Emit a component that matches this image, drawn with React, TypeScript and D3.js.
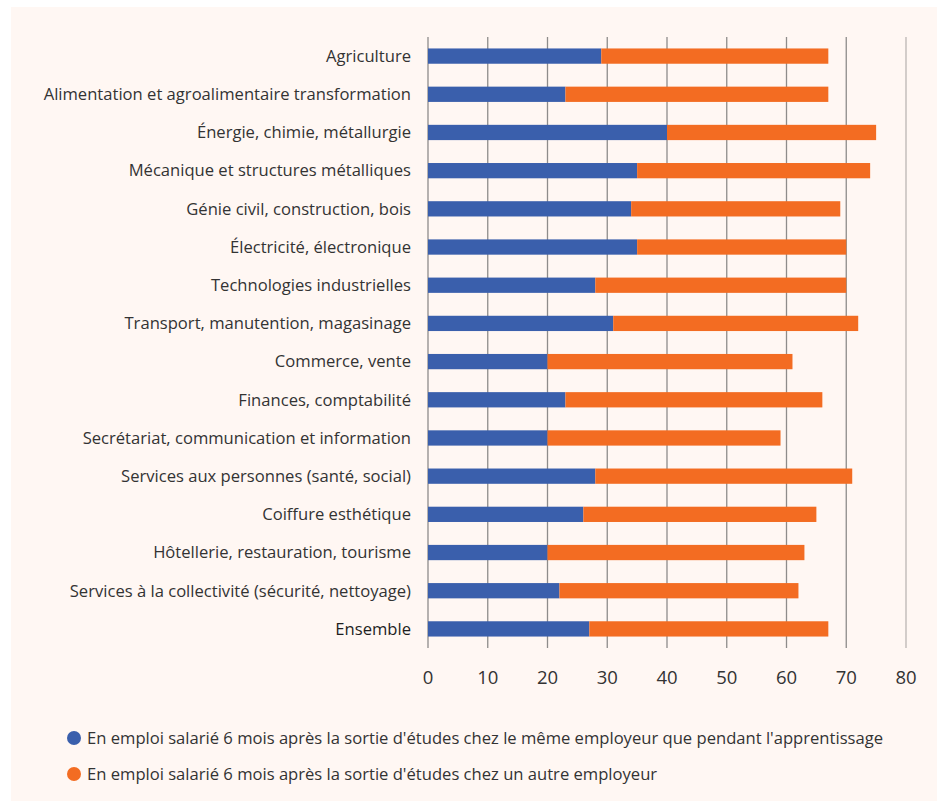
import React from 'react';
import * as d3 from 'd3';

const categories = [
    'Agriculture',
    'Alimentation et agroalimentaire transformation',
    'Énergie, chimie, métallurgie',
    'Mécanique et structures métalliques',
    'Génie civil, construction, bois',
    'Électricité, électronique',
    'Technologies industrielles',
    'Transport, manutention, magasinage',
    'Commerce, vente',
    'Finances, comptabilité',
    'Secrétariat, communication et information',
    'Services aux personnes (santé, social)',
    'Coiffure esthétique',
    'Hôtellerie, restauration, tourisme',
    'Services à la collectivité (sécurité, nettoyage)',
    'Ensemble',
];
// même employeur que pendant l'apprentissage
const sameEmployer = [29, 23, 40, 35, 34, 35, 28, 31, 20, 23, 20, 28, 26, 20, 22, 27];
// autre employeur
const otherEmployer = [38, 44, 35, 39, 35, 35, 42, 41, 41, 43, 39, 43, 39, 43, 40, 40];
const xTicks = [0, 10, 20, 30, 40, 50, 60, 70, 80];
const seriesNames = [
    "En emploi salarié 6 mois après la sortie d'études chez le même employeur que pendant l'apprentissage",
    "En emploi salarié 6 mois après la sortie d'études chez un autre employeur",
];
const colors = ['#3a5fac', '#f36c22'];

const W = 941;
const H = 801;
const FONT = '"Open Sans", "Noto Sans", sans-serif';

export default function App() {
    const x = d3.scaleLinear().domain([0, 80]).range([428, 906]);
    const y = d3.scaleBand<string>().domain(categories).range([37, 648]).paddingInner(0.6).paddingOuter(0.3);
    const rows = categories.map((c, i) => ({ c, a: sameEmployer[i], b: otherEmployer[i] }));

    return (
        <svg width={W} height={H} style={{ position: 'absolute', left: 0, top: 0 }} fontFamily={FONT}>
            <rect x={0} y={0} width={W} height={H} fill="#ffffff" />
            <rect x={11} y={7} width={926} height={H - 7} fill="#fff7f3" />
            {xTicks.map(t => (
                <g key={t}>
                    <line x1={x(t)} x2={x(t)} y1={37} y2={648} stroke={t === 80 ? '#bcb6b3' : '#8e8c8b'} strokeWidth={1.3} />
                    <text x={x(t)} y={684} textAnchor="middle" fontSize={18.5} fill="#333">{t}</text>
                </g>
            ))}
            {rows.map(r => (
                <g key={r.c}>
                    <text x={411} y={y(r.c)! + y.bandwidth() / 2} dy="0.35em" textAnchor="end" fontSize={16.6}
                        fill={r.c === 'Ensemble' ? '#1e1e1e' : '#333'}>{r.c}</text>
                    <rect x={x(0)} y={y(r.c)} width={x(r.a) - x(0)} height={y.bandwidth()} fill={colors[0]} />
                    <rect x={x(r.a)} y={y(r.c)} width={x(r.a + r.b) - x(r.a)} height={y.bandwidth()} fill={colors[1]} />
                </g>
            ))}
            {seriesNames.map((s, i) => (
                <g key={s}>
                    <circle cx={74} cy={738 + i * 36} r={7} fill={colors[i]} />
                    <text x={87} y={738 + i * 36} dy="0.35em" fontSize={16.6} fill="#333">{s}</text>
                </g>
            ))}
        </svg>
    );
}
